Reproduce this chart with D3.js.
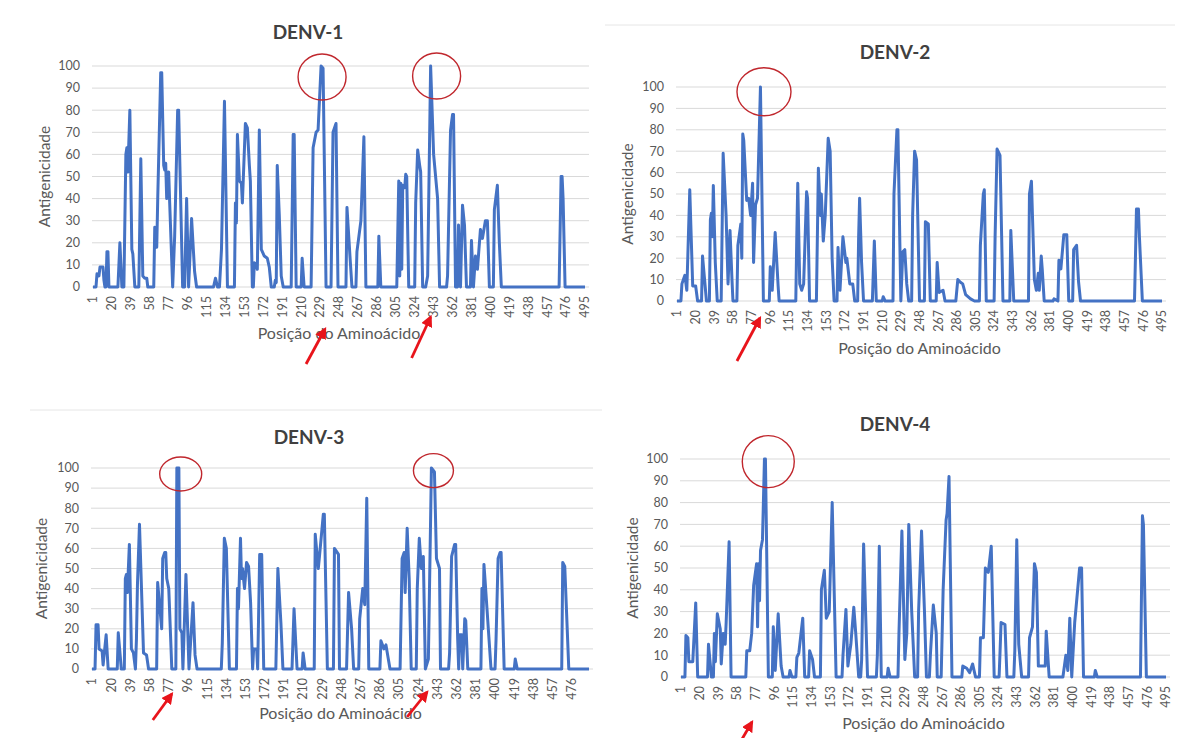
<!DOCTYPE html>
<html>
<head>
<meta charset="utf-8">
<script src="https://cdn.jsdelivr.net/npm/d3@7"></script>
<style>
  body { margin: 0; background: #fff; }
  svg { display: block; font-family: Lato, 'Open Sans', sans-serif; }
</style>
</head>
<body>
<script>
// tick labels
var yTicks = [0, 10, 20, 30, 40, 50, 60, 70, 80, 90, 100];
var xTicks495 = [1, 20, 39, 58, 77, 96, 115, 134, 153, 172, 191, 210, 229, 248, 267, 286, 305, 324, 343, 362, 381, 400, 419, 438, 457, 476, 495];
var xTicks476 = [1, 20, 39, 58, 77, 96, 115, 134, 153, 172, 191, 210, 229, 248, 267, 286, 305, 324, 343, 362, 381, 400, 419, 438, 457, 476];

// antigenicity profiles: [position, value]
var denv1 = [[1,0],[4,0],[5,6],[7,5],[8,9],[11,9],[12,3],[13,0],[14,0],[15,16],[16,16],[17,0],
  [26,0],[28,20],[30,0],[32,0],[34,60],[35,63],[36,52],[38,80],[40,17],[41,15],[43,0],
  [47,0],[49,58],[51,5],[53,4],[55,4],[56,0],[62,0],[63,27],[65,18],[66,40],[69,97],[70,97],[72,55],[73,53],[74,56],[75,40],[77,52],[78,38],[81,0],
  [83,23],[86,80],[87,80],[91,0],[93,0],[95,40],[97,0],[100,31],[103,7],[105,0],
  [122,0],[124,4],[126,0],[128,0],[130,17],[133,84],[136,0],
  [143,0],[144,38],[145,29],[146,69],[148,48],[150,47],[151,38],[154,74],[156,72],[158,55],[159,48],[161,0],
  [162,0],[163,11],[165,10],[166,8],[168,71],[170,17],[173,14],[176,13],[178,9],[180,0],
  [183,0],[184,3],[185,2],[186,55],[188,33],[190,5],[192,0],
  [200,0],[202,69],[203,69],[205,0],[210,0],[211,13],[213,0],
  [220,0],[222,63],[225,70],[227,71],[230,100],[232,99],[235,0],
  [240,0],[242,70],[245,74],[247,0],[255,0],[256,36],[259,14],[261,0],
  [265,0],[266,16],[270,30],[273,68],[275,0],[287,0],[288,23],[290,0],
  [306,0],[308,48],[309,5],[310,47],[311,8],[312,46],[314,45],[315,51],[316,50],[318,0],
  [324,0],[325,38],[327,62],[329,55],[330,52],[332,0],
  [335,0],[337,5],[340,100],[343,60],[347,40],[349,0],
  [356,0],[357,5],[360,71],[362,78],[363,78],[365,0],
  [367,0],[368,28],[370,0],[372,37],[374,28],[376,0],
  [380,0],[381,21],[383,0],[385,14],[387,8],[390,26],[392,22],[395,30],[397,30],[399,0],
  [403,0],[404,35],[407,46],[409,20],[411,0],
  [469,0],[471,50],[472,50],[473,40],[475,0],[495,0]];

var denv2 = [[1,0],[5,0],[6,8],[9,12],[11,5],[14,52],[17,7],[20,7],[22,0],
  [26,0],[27,21],[31,0],[34,0],[35,38],[36,41],[37,30],[38,54],[40,18],[42,0],
  [46,0],[48,69],[51,40],[53,8],[55,33],[57,10],[58,0],
  [62,0],[63,26],[66,36],[67,20],[68,78],[69,75],[72,47],[74,48],[76,40],[78,55],[79,18],[81,45],[83,48],[86,100],[89,0],
  [95,0],[96,16],[98,5],[101,32],[104,7],[105,0],
  [122,0],[123,30],[124,55],[126,8],[128,5],[130,8],[133,51],[134,48],[136,0],
  [143,0],[145,62],[147,40],[148,50],[150,28],[152,40],[155,76],[157,70],[159,20],[161,0],
  [164,0],[165,25],[167,5],[170,30],[173,18],[174,20],[177,8],[180,8],[182,0],
  [185,0],[186,30],[187,48],[189,18],[191,0],[200,0],[202,28],[204,0],[210,0],[211,2],[213,0],
  [221,0],[222,50],[225,80],[226,80],[229,0],[231,23],[233,24],[235,8],[237,0],
  [240,0],[241,40],[243,70],[245,66],[248,0],[253,0],[254,37],[257,36],[259,0],
  [265,0],[266,18],[268,4],[272,5],[274,0],
  [285,0],[287,10],[289,9],[292,8],[295,3],[300,1],[304,0],
  [309,0],[310,26],[313,50],[314,52],[316,0],
  [324,0],[325,30],[327,71],[330,68],[333,0],[340,0],[341,33],[344,0],
  [359,0],[360,50],[362,56],[365,10],[367,5],[369,13],[370,5],[372,21],[373,15],[375,0],
  [384,0],[385,1],[389,0],[390,19],[392,15],[395,31],[398,31],[400,0],
  [404,0],[405,24],[408,26],[410,9],[412,0],
  [467,0],[469,43],[471,43],[472,30],[475,0],[495,0]];

var denv3 = [[1,0],[4,0],[5,22],[7,22],[8,10],[11,9],[12,2],[15,17],[17,0],
  [26,0],[27,18],[30,0],
  [33,0],[34,45],[35,47],[36,38],[38,62],[40,10],[42,8],[44,0],
  [45,15],[46,42],[48,72],[52,8],[55,7],[57,0],
  [65,0],[66,43],[70,20],[71,55],[73,58],[74,58],[75,45],[77,40],[80,0],
  [84,0],[85,100],[87,100],[88,20],[90,18],[91,0],
  [94,47],[97,0],[101,33],[103,7],[105,0],
  [129,0],[130,13],[132,65],[134,60],[137,0],
  [144,0],[145,40],[146,30],[148,65],[149,45],[150,50],[152,40],[154,53],[156,51],[158,33],[160,0],
  [161,10],[164,10],[165,0],[167,57],[169,57],[171,0],
  [183,0],[185,50],[188,23],[190,0],[199,0],[201,30],[204,0],[209,0],[210,8],[212,0],
  [221,0],[222,67],[225,50],[226,55],[230,77],[231,77],[234,0],
  [240,0],[241,60],[245,57],[246,0],[253,0],[255,38],[258,20],[260,0],
  [265,0],[266,25],[269,40],[271,32],[273,85],[275,0],
  [286,0],[287,14],[290,10],[292,12],[295,3],[296,0],
  [306,0],[308,55],[310,58],[311,38],[313,70],[315,45],[317,0],
  [322,0],[323,40],[325,65],[327,50],[329,56],[331,0],
  [334,5],[337,100],[340,98],[342,55],[345,50],[346,0],
  [354,0],[355,8],[357,56],[360,62],[361,62],[363,15],[364,0],[365,17],[367,17],[368,0],[370,25],[371,24],[373,0],
  [386,0],[387,40],[388,20],[389,52],[390,45],[392,30],[394,15],[396,0],
  [400,0],[401,15],[403,55],[405,58],[406,58],[409,0],
  [419,0],[420,5],[422,0],
  [466,0],[467,53],[469,51],[473,0],[493,0]];

var denv4 = [[1,0],[5,0],[6,19],[8,18],[9,7],[13,7],[16,34],[18,0],
  [28,0],[29,15],[32,0],
  [34,0],[35,20],[36,7],[38,29],[41,22],[42,6],[44,20],[46,15],[47,25],[50,62],[52,0],
  [67,0],[68,12],[71,12],[73,20],[75,42],[78,52],[79,23],[80,52],[81,35],[82,58],[84,63],[86,100],[87,100],[90,0],
  [94,0],[95,23],[97,3],[100,29],[103,5],[105,0],[111,0],[112,3],[114,0],
  [118,0],[119,9],[121,11],[125,27],[127,0],[131,0],[132,12],[135,8],[137,0],
  [143,0],[144,40],[147,49],[149,27],[152,30],[155,80],[159,0],
  [165,0],[166,10],[169,31],[171,5],[174,15],[177,32],[179,20],[182,0],
  [184,0],[185,8],[187,61],[189,30],[191,0],[200,0],[201,10],[203,60],[205,0],[211,0],[212,4],[214,0],
  [222,0],[223,20],[226,67],[229,8],[231,20],[233,70],[236,30],[239,0],
  [242,0],[243,30],[246,67],[249,30],[251,0],[254,0],[255,10],[258,33],[261,20],[262,0],
  [266,0],[268,40],[271,72],[272,75],[274,92],[277,0],
  [287,0],[288,5],[292,4],[295,2],[298,6],[301,0],
  [305,0],[306,18],[309,18],[311,50],[314,48],[317,60],[320,0],
  [325,0],[326,12],[327,25],[331,24],[333,0],[340,0],[341,12],[343,63],[345,15],[348,0],
  [355,0],[356,18],[359,23],[361,52],[363,48],[365,5],[372,5],[373,21],[376,0],
  [390,0],[393,10],[395,3],[397,27],[399,0],[402,25],[405,40],[407,50],[409,50],[411,0],
  [422,0],[423,3],[425,0],[469,0],[471,74],[472,70],[475,0],[495,0]];

// layout of the four panels
var panels = [
  {title: 'DENV-1', data: denv1, n: 495, xTicks: xTicks495,
   left: 93, right: 585, top: 66, bottom: 287, titleY: 39, titleX: 308, yTitleX: 45, xTitleY: 339,
   circles: [{pos: 231, value: 95, rx: 24, ry: 23}, {pos: 346, value: 95.5, rx: 24, ry: 23}],
   arrows: [{pos: 234, dy: 42, tx: -19, ty: 35}, {pos: 340, dy: 30, tx: -19, ty: 41}]},
  {title: 'DENV-2', data: denv2, n: 495, xTicks: xTicks495,
   left: 677, right: 1162, top: 87, bottom: 301, titleY: 59, titleX: 895, yTitleX: 628, xTitleY: 354,
   circles: [{pos: 89.6, value: 97.8, rx: 27, ry: 24}],
   arrows: [{pos: 85.5, dy: 17, tx: -23, ty: 43}]},
  {title: 'DENV-3', data: denv3, n: 493, xTicks: xTicks476,
   left: 92, right: 589, top: 468, bottom: 669, titleY: 444, titleX: 309, yTitleX: 42, xTitleY: 719,
   circles: [{pos: 88.8, value: 97, rx: 21, ry: 17}, {pos: 339, value: 98.7, rx: 20, ry: 17}],
   arrows: [{pos: 80, dy: 25, tx: -19, ty: 26}, {pos: 332.7, dy: 23, tx: -20, ty: 25}]},
  {title: 'DENV-4', data: denv4, n: 495, xTicks: xTicks495,
   left: 681, right: 1166, top: 459, bottom: 677, titleY: 431, titleX: 895, yTitleX: 633, xTitleY: 729,
   circles: [{pos: 89.9, value: 98.8, rx: 26, ry: 26}],
   arrows: [{pos: 73.3, dy: 45, tx: -14, ty: 24}]}
];

var svg = d3.select('body').append('svg')
    .attr('width', 1178)
    .attr('height', 738);

svg.append('defs').append('marker')
    .attr('id', 'head')
    .attr('viewBox', '0 0 10 10')
    .attr('refX', 8)
    .attr('refY', 5)
    .attr('markerWidth', 4.2)
    .attr('markerHeight', 4.2)
    .attr('orient', 'auto')
  .append('path')
    .attr('d', 'M0,0L10,5L0,10Z')
    .attr('fill', '#e8141b');

// faint panel separators
svg.append('line').attr('x1', 605).attr('x2', 1175).attr('y1', 25).attr('y2', 25)
    .attr('stroke', '#e6e6e6').attr('stroke-width', 1);
svg.append('line').attr('x1', 30).attr('x2', 602).attr('y1', 410).attr('y2', 410)
    .attr('stroke', '#e6e6e6').attr('stroke-width', 1);

panels.forEach(function (p) {
  var x = d3.scaleLinear().domain([1, p.n]).range([p.left, p.right]);
  var y = d3.scaleLinear().domain([0, 100]).range([p.bottom, p.top]);
  var g = svg.append('g');

  g.selectAll('.grid')
      .data(yTicks)
      .enter().append('line')
      .attr('x1', p.left - 1)
      .attr('x2', p.right + 4)
      .attr('y1', function (d) { return y(d); })
      .attr('y2', function (d) { return y(d); })
      .attr('stroke', '#d9d9d9')
      .attr('stroke-width', 1);

  g.selectAll('.ylab')
      .data(yTicks)
      .enter().append('text')
      .attr('x', p.left - 13)
      .attr('y', function (d) { return y(d); })
      .attr('dy', '0.35em')
      .attr('text-anchor', 'end')
      .attr('font-size', 12.5)
      .attr('fill', '#595959')
      .text(function (d) { return d; });

  g.selectAll('.xlab')
      .data(p.xTicks)
      .enter().append('text')
      .attr('transform', function (d) { return 'translate(' + x(d) + ',' + (p.bottom + 9) + ') rotate(-90)'; })
      .attr('dy', '0.35em')
      .attr('text-anchor', 'end')
      .attr('font-size', 12.5)
      .attr('fill', '#595959')
      .text(function (d) { return d; });

  var line = d3.line()
      .x(function (d) { return x(d[0]); })
      .y(function (d) { return y(d[1]); });

  g.append('path')
      .datum(p.data)
      .attr('d', line)
      .attr('fill', 'none')
      .attr('stroke', '#4472c4')
      .attr('stroke-width', 3)
      .attr('stroke-linejoin', 'round');

  g.append('text')
      .attr('x', p.titleX)
      .attr('y', p.titleY)
      .attr('text-anchor', 'middle')
      .attr('font-size', 19)
      .attr('font-weight', 'bold')
      .attr('fill', '#404040')
      .text(p.title);

  g.append('text')
      .attr('transform', 'translate(' + p.yTitleX + ',' + ((p.top + p.bottom) / 2) + ') rotate(-90)')
      .attr('text-anchor', 'middle')
      .attr('dy', '0.35em')
      .attr('font-size', 15.5)
      .attr('fill', '#595959')
      .text('Antigenicidade');

  g.append('text')
      .attr('x', (p.left + p.right) / 2)
      .attr('y', p.xTitleY)
      .attr('text-anchor', 'middle')
      .attr('font-size', 16)
      .attr('fill', '#595959')
      .text('Posição do Aminoácido');

  g.selectAll('.circ')
      .data(p.circles)
      .enter().append('ellipse')
      .attr('cx', function (d) { return x(d.pos); })
      .attr('cy', function (d) { return y(d.value); })
      .attr('rx', function (d) { return d.rx; })
      .attr('ry', function (d) { return d.ry; })
      .attr('fill', 'none')
      .attr('stroke', '#c0272d')
      .attr('stroke-width', 1.4);

  g.selectAll('.arrow')
      .data(p.arrows)
      .enter().append('line')
      .attr('x1', function (d) { return x(d.pos) + d.tx; })
      .attr('y1', function (d) { return p.bottom + d.dy + d.ty; })
      .attr('x2', function (d) { return x(d.pos); })
      .attr('y2', function (d) { return p.bottom + d.dy; })
      .attr('stroke', '#e8141b')
      .attr('stroke-width', 2.8)
      .attr('marker-end', 'url(#head)');
});
</script>
</body>
</html>
